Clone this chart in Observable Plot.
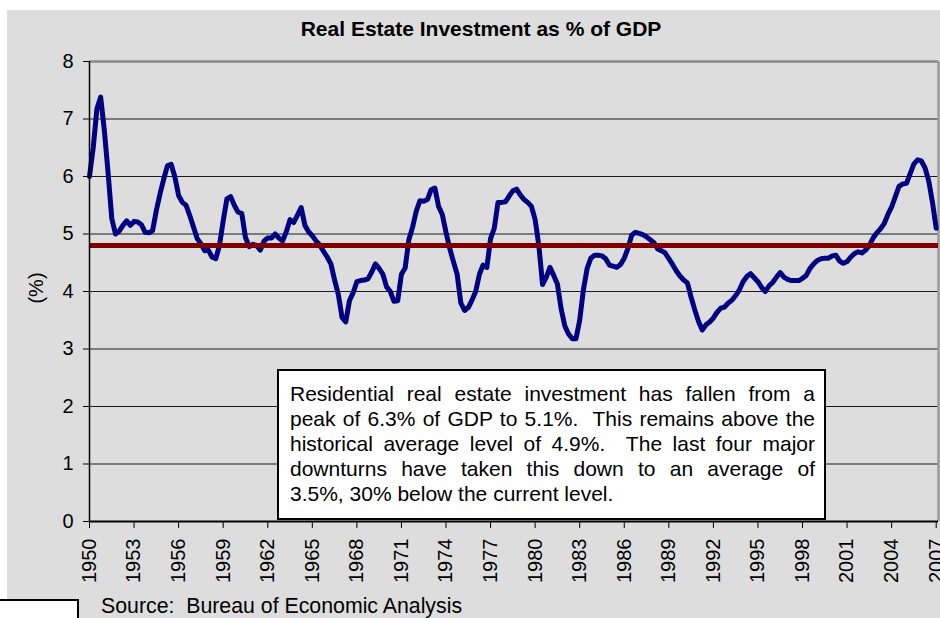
<!DOCTYPE html>
<html><head><meta charset="utf-8">
<script src="https://cdn.jsdelivr.net/npm/d3@7"></script>
<script src="https://cdn.jsdelivr.net/npm/@observablehq/plot@0.6"></script>
<style>
body{margin:0;background:#fff;}
#wrap{position:relative;width:940px;height:618px;overflow:hidden;font-family:"Liberation Sans",Arial,sans-serif;color:#000;}
#bg{position:absolute;left:7px;top:10px;right:0;bottom:0;background:#dddddd;}
#chart{position:absolute;left:0;top:0;}
#title{position:absolute;left:0;width:962px;top:18px;text-align:center;font-weight:bold;font-size:21px;line-height:21px;}
#ylab{position:absolute;left:-14px;top:276px;width:100px;height:24px;line-height:24px;text-align:center;font-size:20px;transform:rotate(-90deg);}
#note{position:absolute;left:277px;top:369px;width:549px;height:151px;box-sizing:border-box;border:2px solid #000;background:#fff;padding:10px 9px 0 11px;font-size:21px;line-height:25px;}
#note div{text-align:justify;text-align-last:justify;}
#note div.last{text-align-last:left;}
#source{position:absolute;left:101px;top:596px;font-size:21.3px;line-height:21px;white-space:nowrap;}
#corner{position:absolute;left:0;top:599px;width:79px;height:30px;box-sizing:border-box;background:#fff;border-top:2px solid #000;border-right:2px solid #000;}
</style></head>
<body>
<div id="wrap">
  <div id="bg"></div>
  <div id="chart"></div>
  <div id="title"></div>
  <div id="ylab"></div>
  <div id="note"></div>
  <div id="source"></div>
  <div id="corner"></div>
</div>
<script>
// ---- data: quarterly values (% of GDP), 1950Q1 onward ----
const startYear = 1950;
const v1950s = [6.0,6.5,7.18,7.38, 6.8,6.07,5.27,5.0, 5.05,5.15,5.23,5.15, 5.22,5.21,5.16,5.03, 5.02,5.06,5.41,5.7,
                5.96,6.19,6.21,5.99, 5.67,5.55,5.5,5.32, 5.12,4.92,4.83,4.71, 4.72,4.6,4.57,4.8, 5.23,5.61,5.65,5.5];
const v1960s = [5.38,5.36,4.94,4.78, 4.82,4.8,4.72,4.88, 4.93,4.93,5.0,4.93, 4.88,5.04,5.25,5.2, 5.33,5.46,5.15,5.04,
                4.97,4.88,4.81,4.7, 4.6,4.48,4.2,3.95, 3.55,3.47,3.84,3.98, 4.17,4.19,4.2,4.22, 4.34,4.48,4.4,4.3];
const v1970s = [4.08,4.0,3.83,3.84, 4.3,4.41,4.9,5.12, 5.4,5.58,5.57,5.6, 5.77,5.8,5.48,5.34, 5.03,4.75,4.52,4.3,
                3.8,3.67,3.72,3.85, 4.0,4.3,4.46,4.42, 4.92,5.1,5.55,5.55, 5.56,5.66,5.75,5.78, 5.68,5.6,5.55,5.48];
const v1980s = [5.25,4.8,4.12,4.25, 4.42,4.28,4.13,3.7, 3.4,3.26,3.18,3.18, 3.5,4.03,4.4,4.58, 4.63,4.63,4.62,4.57,
                4.46,4.44,4.42,4.47, 4.58,4.75,4.98,5.03, 5.01,4.99,4.95,4.9, 4.85,4.74,4.71,4.67, 4.57,4.47,4.36,4.27];
const v1990s = [4.2,4.15,3.9,3.68, 3.48,3.33,3.42,3.47, 3.54,3.64,3.71,3.73, 3.8,3.85,3.93,4.03, 4.17,4.26,4.31,4.24,
                4.17,4.07,4.0,4.1, 4.16,4.25,4.33,4.25, 4.21,4.19,4.19,4.19, 4.23,4.28,4.4,4.48, 4.54,4.57,4.58,4.58];
const v2000s = [4.62,4.63,4.53,4.49, 4.52,4.6,4.66,4.69, 4.67,4.72,4.8,4.93, 5.02,5.09,5.18,5.34, 5.47,5.65,5.83,5.87,
                5.88,6.05,6.22,6.29, 6.27,6.15,5.92,5.55, 5.1];
const average = 4.8;
const tickYears = [1950,1953,1956,1959,1962,1965,1968,1971,1974,1977,1980,1983,1986,1989,1992,1995,1998,2001,2004,2007];
const yTicks = [0,1,2,3,4,5,6,7,8];
const gridValues = [1,2,3,4,5,6,7];
const xEnd = 2007.155;

const titleText = "Real Estate Investment as % of GDP";
const yLabelText = "(%)";
const noteLines = [
  "Residential real estate investment has fallen from a",
  "peak of 6.3% of GDP to 5.1%.\u00a0 This remains above the",
  "historical average level of 4.9%.\u00a0 The last four major",
  "downturns have taken this down to an average of",
  "3.5%, 30% below the current level."
];
const sourceText = "Source:\u00a0 Bureau of Economic Analysis";

const values = [...v1950s, ...v1960s, ...v1970s, ...v1980s, ...v1990s, ...v2000s];
const data = values.map((v, i) => ({t: startYear + i / 4, v}));

const chart = Plot.plot({
  width: 940, height: 618,
  marginLeft: 89, marginRight: 2, marginTop: 61, marginBottom: 97,
  style: {background: "transparent", fontFamily: "Liberation Sans, Arial, sans-serif", fontSize: "20px", color: "#000"},
  x: {domain: [startYear, xEnd]},
  y: {domain: [0, 8]},
  marks: [
    Plot.ruleY(gridValues, {stroke: "#1a1a1a", strokeWidth: 1}),
    Plot.ruleY([8], {stroke: "#8a8a8a", strokeWidth: 2.5}),
    Plot.ruleX([xEnd], {stroke: "#9a9a9a", strokeWidth: 2.5}),
    Plot.line(data, {x: "t", y: "v", stroke: "#000080", strokeWidth: 5, strokeLinejoin: "round", strokeLinecap: "round"}),
    Plot.ruleY([average], {stroke: "#800000", strokeWidth: 5}),
    Plot.ruleY([0], {stroke: "#000", strokeWidth: 2}),
    Plot.ruleX([startYear], {stroke: "#000", strokeWidth: 1.5}),
    Plot.axisX({ticks: tickYears, tickFormat: d => String(d), tickRotate: -90, tickSize: 7, tickPadding: 10, fontSize: 20, label: null}),
    Plot.axisY({ticks: yTicks, tickSize: 6, tickPadding: 10, fontSize: 20, label: null})
  ]
});
document.getElementById("chart").append(chart);
document.getElementById("title").textContent = titleText;
document.getElementById("ylab").textContent = yLabelText;
document.getElementById("source").textContent = sourceText;
const note = document.getElementById("note");
noteLines.forEach((line, i) => {
  const d = document.createElement("div");
  d.textContent = line;
  if (i === noteLines.length - 1) d.className = "last";
  note.append(d);
});
</script>
</body></html>
